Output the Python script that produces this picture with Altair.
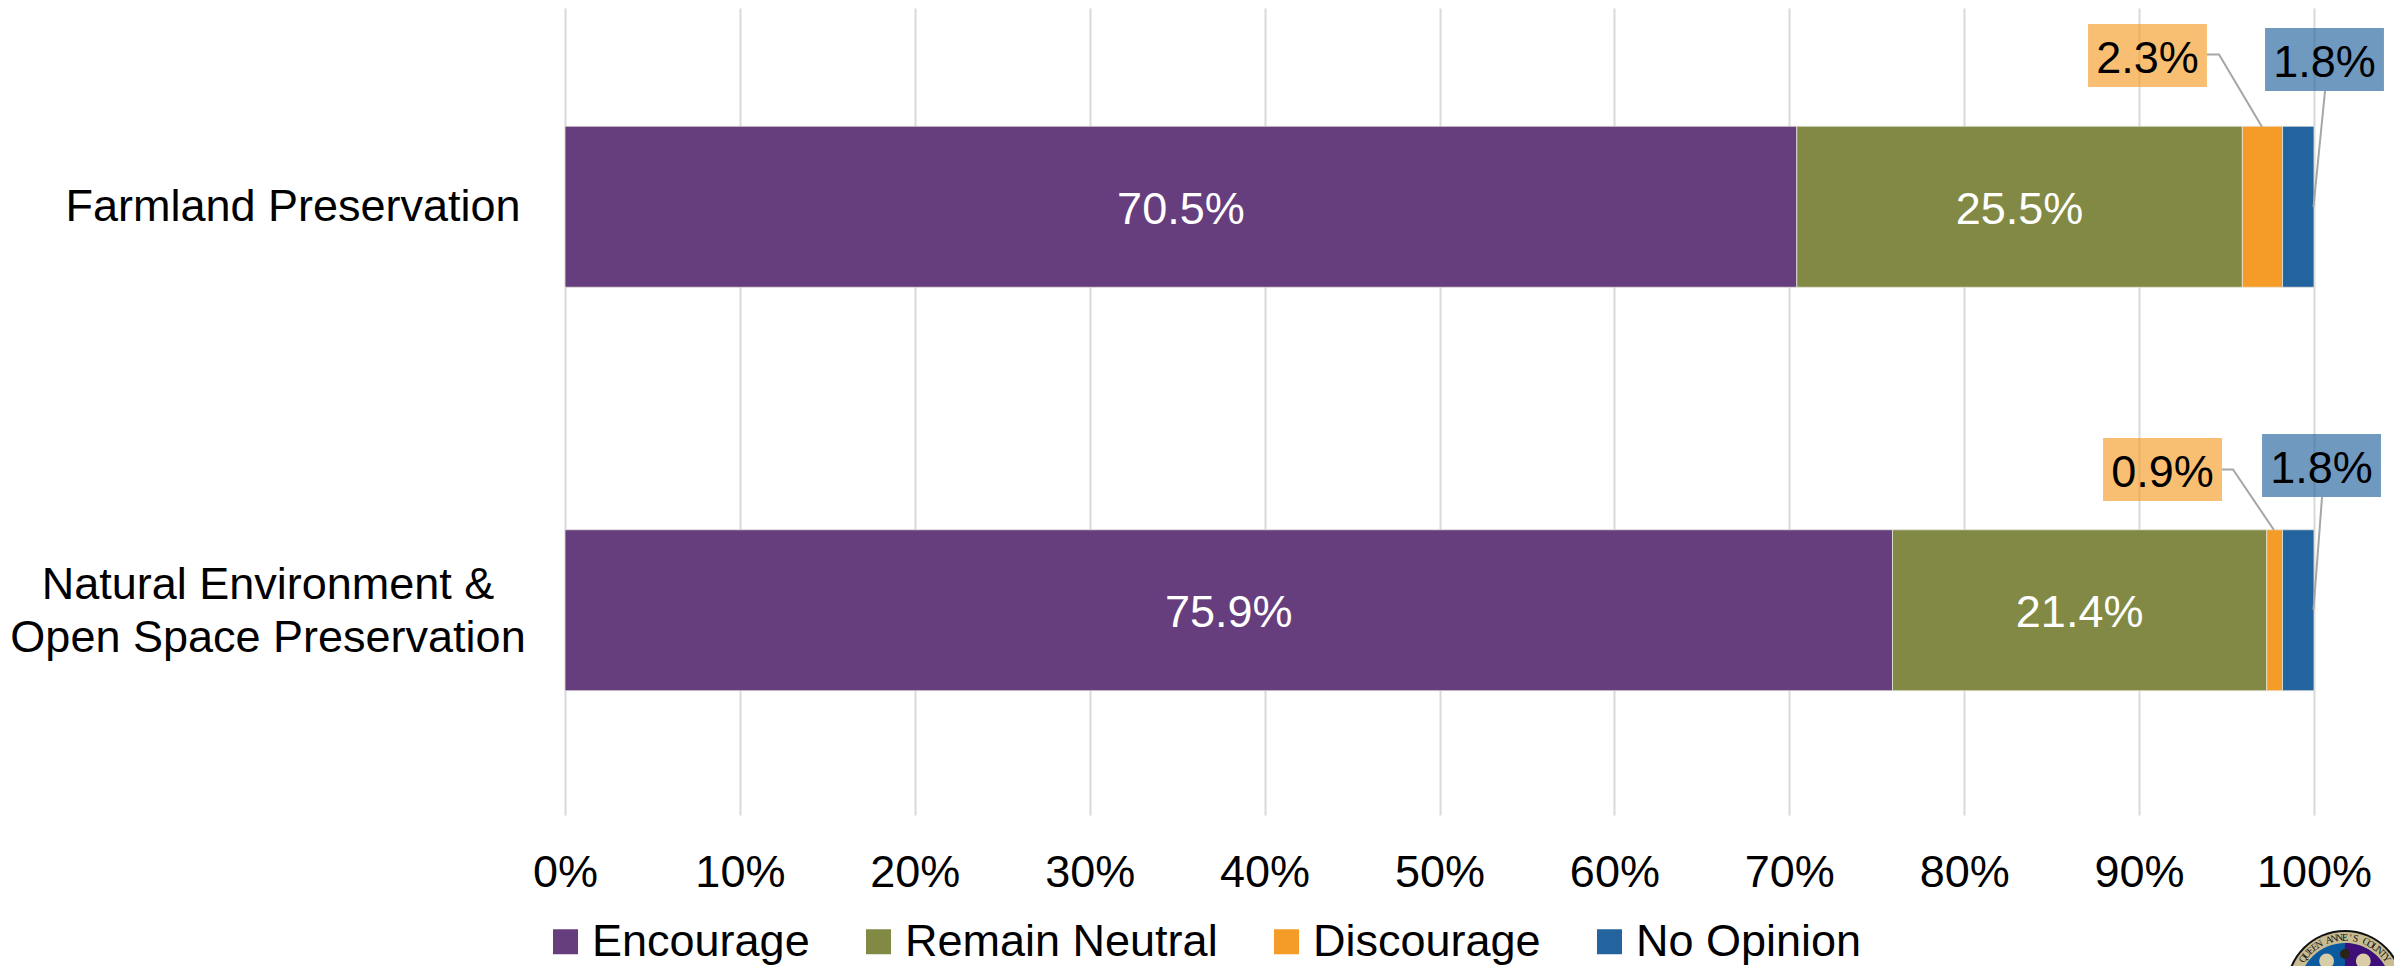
import math
import altair as alt
import pandas as pd

FONT = "Liberation Sans"
FS = 45
categories = ["Farmland Preservation", "Natural Environment & Open Space Preservation"]
series = ["Encourage", "Remain Neutral", "Discourage", "No Opinion"]
colors = ["#663D7D", "#818944", "#F59C28", "#23639E"]
farmland = [70.5, 25.5, 2.3, 1.8]
natural = [75.9, 21.4, 0.9, 1.8]

rows = []
for cat, vals in zip(categories, [farmland, natural]):
    total = sum(vals)
    cum = 0
    for i, (s, v) in enumerate(zip(series, vals)):
        rows.append({"cat": cat, "series": s, "value": v, "ord": i,
                     "mid": (cum + v / 2) / total, "label": f"{v}%"})
        cum += v
df = pd.DataFrame(rows)

x_scale = alt.Scale(domain=[0, 1], nice=False, zero=False)
x_axis = alt.Axis(format=".0%", values=[i / 10 for i in range(11)], grid=True,
                  gridColor="#D9D9D9", gridWidth=2, domain=False, ticks=False,
                  labelFontSize=FS, labelFont=FONT, labelColor="#000000",
                  labelPadding=38, title=None, labelFlush=False, labelOverlap=False)
y_scale = alt.Scale(domain=categories, range=[-3, 804], paddingInner=0, paddingOuter=0)
px_y = alt.Scale(domain=[8, 812], range=[0, 804], zero=False, nice=False)


def X(field):
    return alt.X(field, scale=x_scale, axis=x_axis, title=None)


def Y(field):
    return alt.Y(field, scale=px_y, axis=None)


bars = alt.Chart(df).mark_bar(size=161, stroke="#E6E6DC", strokeWidth=0.8).encode(
    x=alt.X("value:Q", stack="normalize", scale=x_scale, axis=x_axis, title=None),
    y=alt.Y("cat:N", scale=y_scale, axis=None),
    color=alt.Color("series:N",
                    scale=alt.Scale(domain=series, range=colors),
                    legend=alt.Legend(title=None, orient="none", legendX=-22, legendY=911,
                                      direction="horizontal", symbolType="square",
                                      symbolSize=625, symbolStrokeWidth=0, labelFontSize=FS,
                                      labelFont=FONT, labelColor="#000000", labelOffset=4,
                                      labelLimit=0, columnPadding=46, symbolOffset=0)),
    order=alt.Order("ord:Q"),
)

inside = alt.Chart(df[df["ord"] < 2]).mark_text(fontSize=FS, font=FONT, color="#FFFFFF", dy=3).encode(
    x=X("mid:Q"),
    y=alt.Y("cat:N", scale=y_scale, axis=None),
    text="label:N",
)

# Hand-placed callouts, in axis fractions and in picture height
box_labels = ["2.3%", "1.8%", "0.9%", "1.8%"]
box_left = [0.8708, 0.9720, 0.8794, 0.9703]
box_right = [0.9388, 1.0400, 0.9474, 1.0383]
box_top = [24, 28, 438, 434]
box_bottom = [87, 91, 501, 497]
box_colors = ["#F59C28", "#23639E", "#F59C28", "#23639E"]
boxes_df = pd.DataFrame({"t": box_labels, "l": box_left, "r": box_right, "a": box_top,
                         "b": box_bottom, "c": box_colors})
boxes_df["mx"] = (boxes_df.l + boxes_df.r) / 2
boxes_df["my"] = (boxes_df.a + boxes_df.b) / 2 + 0.5

boxes = alt.Chart(boxes_df).mark_rect(opacity=0.65).encode(
    x=X("l:Q"), x2="r:Q",
    y=Y("a:Q"), y2="b:Q",
    fill=alt.Fill("c:N", scale=None, legend=None),
)
box_text = alt.Chart(boxes_df).mark_text(fontSize=FS, font=FONT, color="#000000", dy=3).encode(
    x=X("mx:Q"), y=Y("my:Q"), text="t:N",
)

lead_group = [0, 0, 0, 1, 1, 2, 2, 2, 3, 3]
lead_step = [0, 1, 2, 0, 1, 0, 1, 2, 0, 1]
lead_x = [0.9388, 0.9457, 0.9703, 1.0063, 0.9997, 0.9474, 0.9537, 0.9771, 1.0046, 0.9997]
lead_y = [54.5, 54.5, 127, 91, 207, 469.5, 469.5, 530, 497, 610]
lead_df = pd.DataFrame({"g": lead_group, "s": lead_step, "x": lead_x, "y": lead_y})
leaders = alt.Chart(lead_df).mark_line(color="#A6A6A6", strokeWidth=2).encode(
    x=X("x:Q"), y=Y("y:Q"), detail="g:N", order="s:Q",
)

cat_lines = ["Farmland Preservation", "Natural Environment &", "Open Space Preservation"]
cat_x = [-0.1555, -0.1698, -0.1698]
cat_y = [207, 585, 638]
cat_df = pd.DataFrame({"t": cat_lines, "x": cat_x, "y": cat_y})
cat_text = alt.Chart(cat_df).mark_text(fontSize=FS, font=FONT, color="#000000").encode(
    x=X("x:Q"), y=Y("y:Q"), text="t:N",
)

# County seal, cut off by the picture's corner
seal_x = 1.0177
seal_y = 989
seal_rings = [59, 57, 46]
seal_ring_colors = ["#111111", "#C9BC93", "#0B5AA0"]
seal_df = pd.DataFrame({"x": [seal_x], "y": [seal_y]})
seal = []
for r, c in zip(seal_rings, seal_ring_colors):
    seal.append(alt.Chart(seal_df).mark_point(shape="circle", filled=True, opacity=1, size=(2 * r) ** 2, color=c).encode(
        x=X("x:Q"), y=Y("y:Q")))
seal.append(alt.Chart(seal_df).mark_point(shape="M0,-1A1,1,0,0,1,0,1Z", filled=True, opacity=1,
                                          size=(2 * 46) ** 2, color="#3E0F78").encode(
    x=X("x:Q"), y=Y("y:Q")))

seal_name = "QUEEN ANNE'S COUNTY"
letters = []
n = len(seal_name)
for i, ch in enumerate(seal_name):
    a = -54 + 108 * i / (n - 1)
    letters.append({"t": ch, "a": (a + 360) % 360,
                    "x": seal_x + 51.5 * math.sin(math.radians(a)) / 1749,
                    "y": seal_y - 51.5 * math.cos(math.radians(a))})
seal_letters = alt.Chart(pd.DataFrame(letters)).mark_text(
    fontSize=10, font="Liberation Serif", color="#111111").encode(
    x=X("x:Q"), y=Y("y:Q"),
    angle=alt.Angle("a:Q", scale=None),
    text="t:N",
)

emblem_x = [seal_x - 0.0105, seal_x + 0.0105]
emblem_y = [961, 961]
emblem_df = pd.DataFrame({"x": emblem_x, "y": emblem_y})
emblem = alt.Chart(emblem_df).mark_point(filled=True, size=220, color="#D8CDA6", opacity=1).encode(
    x=X("x:Q"), y=Y("y:Q"),
)
crown = alt.Chart(seal_df).mark_point(shape="circle", filled=True, opacity=1, size=100, color="#2A2416").encode(
    x=X("x:Q"), y=alt.Y("yc:Q", scale=px_y, axis=None)
).transform_calculate(yc="954")

chart = alt.layer(bars, inside, boxes, box_text, leaders, cat_text, *seal, seal_letters, emblem, crown).resolve_scale(
    y="independent"
).properties(
    width=1749, height=804,
    autosize=alt.AutoSizeParams(type="none", contains="content"),
    padding={"left": 557, "top": 0, "right": 80, "bottom": 154},
    background="#FFFFFF",
).configure_view(stroke=None)

chart.save("out.html", embed_options={"renderer": "svg", "actions": False})
